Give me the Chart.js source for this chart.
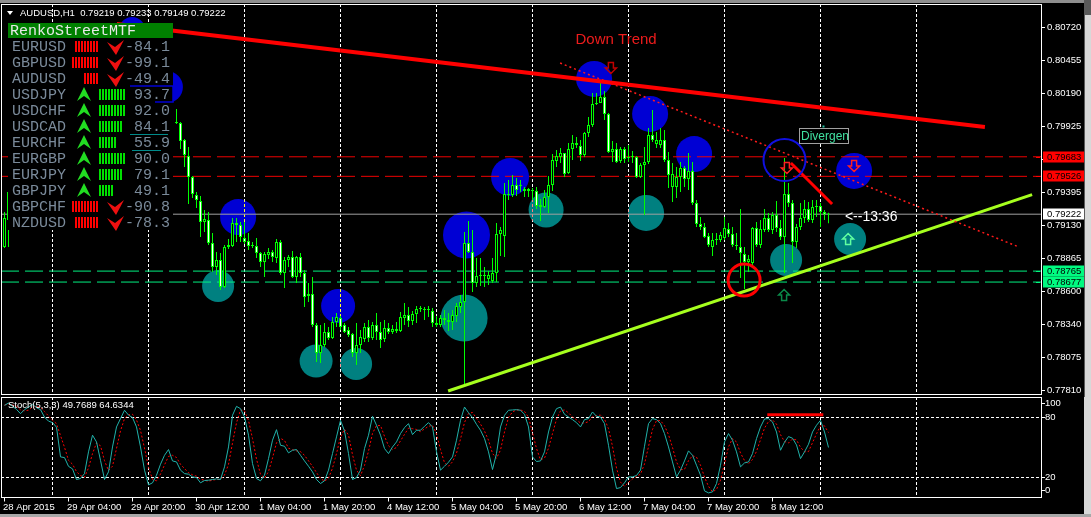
<!DOCTYPE html>
<html>
<head>
<meta charset="utf-8">
<script src="https://cdn.jsdelivr.net/npm/chart.js@4.4.1/dist/chart.umd.min.js"></script>
<style>
html, body { margin: 0; padding: 0; background: #000; overflow: hidden; }
#main { position: absolute; left: 0; top: 0; }
#sub { position: absolute; left: 0; top: 397px; }
</style>
</head>
<body>
<canvas id="main" width="1091" height="397"></canvas>
<canvas id="sub" width="1091" height="120"></canvas>
<script>
// AUDUSD H1, one entry per bar (bar 0 = 28 Apr 2015 12:00). Bars 2..42 sit under the panel.
const openP = [0.78958, 0.79175,
  null, null, null, null, null, null, null, null, null, null,
  null, null, null, null, null, null, null, null, null, null,
  null, null, null, null, null, null, null, null, null, null,
  null, null, null, null, null, null, null, null, null, null,
  null,
  0.79962, 0.79954, 0.79818, 0.79689, 0.79521, 0.79376, 0.79328, 0.79159, 0.79175, 0.78990,
  0.78798, 0.78854, 0.78637, 0.78958, 0.78966, 0.79151, 0.79135, 0.79031, 0.79007, 0.78974,
  0.78966, 0.78910, 0.78838, 0.78894, 0.78918, 0.78870, 0.78999, 0.78750, 0.78854, 0.78878,
  0.78717, 0.78878, 0.78750, 0.78581, 0.78581, 0.78332, 0.78107, 0.78171, 0.78276, 0.78228,
  0.78356, 0.78388, 0.78332, 0.78292, 0.78260, 0.78107, 0.78171, 0.78220, 0.78316, 0.78228,
  0.78332, 0.78276, 0.78220, 0.78308, 0.78276, 0.78300, 0.78284, 0.78388, 0.78412, 0.78364,
  0.78420, 0.78460, 0.78460, 0.78452, 0.78444, 0.78348, 0.78332, 0.78388, 0.78372, 0.78356,
  0.78404, 0.78477, 0.78517, 0.78990, 0.78918, 0.78669, 0.78725, 0.78734, 0.78701, 0.78685,
  0.78750, 0.79063, 0.79047, 0.79384, 0.79376, 0.79456, 0.79448, 0.79408, 0.79424, 0.79416,
  0.79408, 0.79296, 0.79280, 0.79360, 0.79456, 0.79649, 0.79681, 0.79713, 0.79553, 0.79745,
  0.79794, 0.79769, 0.79697, 0.79874, 0.79938, 0.80107, 0.80115, 0.80163, 0.80026, 0.79721,
  0.79745, 0.79649, 0.79745, 0.79673, 0.79681, 0.79681, 0.79521, 0.79617, 0.79641, 0.79858,
  0.79786, 0.79778, 0.79818, 0.79657, 0.79440, 0.79440, 0.79521, 0.79593, 0.79504, 0.79569,
  0.79312, 0.79143, 0.79119, 0.79047, 0.78958, 0.79015, 0.79015, 0.79031, 0.79103, 0.79063,
  0.78974, 0.78958, 0.78902, 0.78838, 0.78830, 0.79111, 0.78974, 0.79095, 0.79191, 0.79095,
  0.79215, 0.79111, 0.79039, 0.79384, 0.79312, 0.78999, 0.79119, 0.79191, 0.79264, 0.79175,
  0.79280, 0.79288, 0.79239, 0.79219];

const highP = [0.79239, 0.79432,
  null, null, null, null, null, null, null, null, null, null,
  null, null, null, null, null, null, null, null, null, null,
  null, null, null, null, null, null, null, null, null, null,
  null, null, null, null, null, null, null, null, null, null,
  null,
  0.80067, 0.79962, 0.79826, 0.79761, 0.79529, 0.79400, 0.79368, 0.79256, 0.79239, 0.79071,
  0.78918, 0.78910, 0.78974, 0.79023, 0.79191, 0.79191, 0.79159, 0.79159, 0.79071, 0.78999,
  0.79031, 0.78918, 0.78918, 0.78950, 0.78934, 0.79023, 0.79015, 0.78878, 0.78894, 0.78926,
  0.78886, 0.78910, 0.78774, 0.78669, 0.78717, 0.78348, 0.78332, 0.78348, 0.78316, 0.78396,
  0.78428, 0.78404, 0.78348, 0.78316, 0.78268, 0.78348, 0.78292, 0.78348, 0.78372, 0.78356,
  0.78428, 0.78356, 0.78372, 0.78348, 0.78332, 0.78356, 0.78436, 0.78509, 0.78477, 0.78444,
  0.78485, 0.78485, 0.78477, 0.78485, 0.78468, 0.78404, 0.78412, 0.78452, 0.78428, 0.78452,
  0.78509, 0.78573, 0.79079, 0.79167, 0.79095, 0.78870, 0.78870, 0.78798, 0.78766, 0.78870,
  0.79151, 0.79119, 0.79472, 0.79496, 0.79537, 0.79512, 0.79496, 0.79440, 0.79432, 0.79432,
  0.79440, 0.79344, 0.79416, 0.79529, 0.79705, 0.79737, 0.79753, 0.79713, 0.79794, 0.79858,
  0.79842, 0.79818, 0.79882, 0.80002, 0.80195, 0.80195, 0.80284, 0.80211, 0.80035, 0.79810,
  0.79794, 0.79761, 0.79761, 0.79778, 0.79729, 0.79689, 0.79633, 0.79761, 0.79914, 0.80059,
  0.79882, 0.79914, 0.79898, 0.79721, 0.79633, 0.79601, 0.79641, 0.79609, 0.79713, 0.79641,
  0.79336, 0.79199, 0.79151, 0.79071, 0.79071, 0.79071, 0.79079, 0.79199, 0.79151, 0.79119,
  0.79071, 0.79264, 0.78958, 0.78894, 0.79119, 0.79159, 0.79175, 0.79264, 0.79231, 0.79239,
  0.79328, 0.79175, 0.79673, 0.79472, 0.79336, 0.79143, 0.79312, 0.79336, 0.79320, 0.79336,
  0.79336, 0.79312, 0.79256, 0.79233];

const lowP = [0.78950, 0.78958,
  null, null, null, null, null, null, null, null, null, null,
  null, null, null, null, null, null, null, null, null, null,
  null, null, null, null, null, null, null, null, null, null,
  null, null, null, null, null, null, null, null, null, null,
  null,
  0.79946, 0.79745, 0.79601, 0.79304, 0.79352, 0.79272, 0.79039, 0.79079, 0.78974, 0.78758,
  0.78734, 0.78613, 0.78629, 0.78942, 0.78958, 0.78999, 0.78999, 0.78982, 0.78934, 0.78950,
  0.78870, 0.78798, 0.78717, 0.78862, 0.78838, 0.78830, 0.78734, 0.78629, 0.78798, 0.78709,
  0.78669, 0.78717, 0.78477, 0.78517, 0.78316, 0.78035, 0.78027, 0.78155, 0.78211, 0.78220,
  0.78316, 0.78292, 0.78268, 0.78236, 0.78075, 0.78011, 0.78107, 0.78195, 0.78195, 0.78211,
  0.78211, 0.78147, 0.78195, 0.78260, 0.78260, 0.78268, 0.78276, 0.78332, 0.78316, 0.78332,
  0.78348, 0.78436, 0.78372, 0.78396, 0.78316, 0.78316, 0.78316, 0.78332, 0.78284, 0.78292,
  0.78356, 0.78428, 0.77850, 0.78910, 0.78597, 0.78637, 0.78645, 0.78637, 0.78653, 0.78669,
  0.78677, 0.78886, 0.78878, 0.79336, 0.79360, 0.79368, 0.79400, 0.79360, 0.79360, 0.79336,
  0.79264, 0.79167, 0.79272, 0.79231, 0.79408, 0.79601, 0.79633, 0.79521, 0.79545, 0.79657,
  0.79753, 0.79649, 0.79681, 0.79842, 0.79922, 0.80099, 0.80115, 0.79978, 0.79713, 0.79641,
  0.79633, 0.79633, 0.79633, 0.79641, 0.79633, 0.79512, 0.79512, 0.79215, 0.79625, 0.79802,
  0.79753, 0.79753, 0.79641, 0.79432, 0.79320, 0.79352, 0.79400, 0.79440, 0.79416, 0.79296,
  0.79119, 0.79095, 0.79031, 0.78958, 0.78886, 0.78974, 0.78999, 0.79015, 0.79039, 0.78958,
  0.78934, 0.78709, 0.78621, 0.78758, 0.78814, 0.78958, 0.78950, 0.79079, 0.79079, 0.79063,
  0.79079, 0.79015, 0.78750, 0.79280, 0.78830, 0.78950, 0.79095, 0.79151, 0.79159, 0.79151,
  0.79199, 0.79119, 0.79175, 0.79149];

const closeP = [0.79191, 0.79400,
  null, null, null, null, null, null, null, null, null, null,
  null, null, null, null, null, null, null, null, null, null,
  null, null, null, null, null, null, null, null, null, null,
  null, null, null, null, null, null, null, null, null, null,
  null,
  0.79954, 0.79810, 0.79697, 0.79521, 0.79384, 0.79336, 0.79159, 0.79183, 0.78990, 0.78798,
  0.78854, 0.78637, 0.78958, 0.78974, 0.79151, 0.79135, 0.79039, 0.78999, 0.78966, 0.78966,
  0.78910, 0.78838, 0.78902, 0.78918, 0.78878, 0.78999, 0.78750, 0.78854, 0.78878, 0.78717,
  0.78878, 0.78750, 0.78557, 0.78565, 0.78332, 0.78107, 0.78171, 0.78276, 0.78228, 0.78356,
  0.78396, 0.78316, 0.78276, 0.78252, 0.78107, 0.78171, 0.78236, 0.78316, 0.78228, 0.78332,
  0.78276, 0.78211, 0.78308, 0.78276, 0.78300, 0.78284, 0.78396, 0.78412, 0.78364, 0.78420,
  0.78460, 0.78468, 0.78452, 0.78460, 0.78348, 0.78332, 0.78388, 0.78372, 0.78356, 0.78412,
  0.78485, 0.78517, 0.78990, 0.78918, 0.78669, 0.78725, 0.78734, 0.78725, 0.78734, 0.78750,
  0.79063, 0.79095, 0.79384, 0.79376, 0.79456, 0.79416, 0.79456, 0.79424, 0.79408, 0.79408,
  0.79288, 0.79280, 0.79360, 0.79456, 0.79657, 0.79689, 0.79713, 0.79545, 0.79745, 0.79794,
  0.79778, 0.79697, 0.79874, 0.79938, 0.80107, 0.80115, 0.80163, 0.80026, 0.79721, 0.79745,
  0.79641, 0.79745, 0.79665, 0.79681, 0.79689, 0.79521, 0.79617, 0.79641, 0.79858, 0.79818,
  0.79818, 0.79818, 0.79657, 0.79537, 0.79545, 0.79521, 0.79593, 0.79504, 0.79569, 0.79312,
  0.79143, 0.79119, 0.79039, 0.78974, 0.79015, 0.79023, 0.79055, 0.79111, 0.79063, 0.78974,
  0.78966, 0.78910, 0.78838, 0.78862, 0.79111, 0.78974, 0.79103, 0.79191, 0.79095, 0.79215,
  0.79111, 0.79039, 0.79384, 0.79312, 0.78999, 0.79119, 0.79191, 0.79264, 0.79175, 0.79280,
  0.79288, 0.79239, 0.79219, 0.79222];

// Stochastic(5,3,3): main %K and signal %D
const stochK = [
  91.7, 94, 90.7, 87.7, 83.4, 87.4, 90, 92.7, 89.4, 87.4,
  80, 76, 74.5, 70, 40.4, 39.7, 31, 28.5, 17.9, 18.9,
  23.8, 45.4, 62, 55.3, 37, 17.9, 25.5, 50.3, 70.2, 78.5,
  86.8, 82, 79.5, 70.2, 50.3, 27.2, 12.6, 14.6, 22.2, 33.1,
  42, 47.7, 36.4, 35.4, 27.2, 23.8, 23.2, 20.5, 19.9, 14.6,
  16.9, 17.2, 17.9, 18.5, 17.9, 30.5, 50.3, 81.8, 90.7, 88.4,
  80.1, 62, 33.8, 18.9, 16.6, 22.2, 38.7, 57, 67.5, 52,
  51, 44.4, 47, 47.7, 42, 36.4, 31.1, 25.5, 17.9, 13.9,
  16.6, 27.2, 43.7, 60.3, 76.8, 66.2, 43.7, 17.9, 19.9, 27.2,
  48.7, 62, 80.8, 71.9, 62, 48.7, 43.7, 50.3, 55.3, 63.6,
  69.5, 73.5, 62.6, 66.9, 66.9, 70.9, 74.5, 70.2, 45.4, 27.2,
  31.1, 35.1, 40.4, 57, 76.8, 90, 84.4, 79.5, 72.8, 66.9,
  58.6, 45.4, 27.8, 43.7, 70.2, 81.8, 86.8, 87.1, 87.4, 86.8,
  82.8, 70.2, 40.4, 35.8, 36.4, 45.4, 65.2, 80.1, 88.4, 90,
  82.8, 80.1, 77.5, 74.5, 70.2, 77.5, 78.5, 85.1, 80.8, 80.1,
  73.5, 52, 27.2, 8.9, 9.9, 14.6, 20.5, 20.5, 21.9, 27.2,
  51, 73.5, 78.5, 77.5, 73.5, 63.6, 50.3, 35.4, 20.5, 27.2,
  36.4, 46.4, 42, 32.1, 22.2, 6.6, 4.6, 5.6, 13.9, 32.1,
  55.3, 63.6, 57, 45.4, 30.5, 34.4, 35.4, 43.7, 58.6, 70.2,
  78.1, 78.5, 75.2, 65.2, 47, 55, 60.6, 59, 52.3, 38.7,
  45.4, 53, 65.2, 71.9, 76.8, 65.2, 49.7689];

const stochD = [
  92, 93, 92.1, 90.8, 87.3, 86.2, 86.9, 90, 90.7, 89.8,
  85.6, 81.1, 76.8, 73.5, 61.6, 50, 37, 33.1, 25.8, 21.8,
  20.2, 29.4, 43.7, 54.2, 51.4, 36.7, 26.8, 31.2, 48.7, 66.3,
  78.5, 82.4, 82.8, 77.2, 66.7, 49.2, 30, 18.1, 16.5, 23.3,
  32.4, 40.9, 42, 39.8, 33, 28.8, 24.7, 22.5, 21.2, 18.3,
  17.1, 16.2, 17.3, 17.9, 18.1, 22.3, 32.9, 54.2, 74.3, 87,
  86.4, 76.8, 58.6, 38.2, 23.1, 19.2, 25.8, 39.3, 54.4, 58.8,
  56.8, 49.1, 47.5, 46.4, 45.6, 42, 36.5, 31, 24.8, 19.1,
  16.1, 19.2, 29.2, 43.7, 60.3, 67.8, 62.2, 42.6, 27.2, 21.7,
  31.9, 46, 63.8, 71.6, 71.6, 60.9, 51.5, 47.6, 49.8, 56.4,
  62.8, 68.9, 68.5, 67.7, 65.5, 68.2, 70.8, 71.9, 63.4, 47.6,
  34.6, 31.1, 35.5, 44.2, 58.1, 74.6, 83.7, 84.6, 78.9, 73.1,
  66.1, 57, 43.9, 39, 47.2, 65.2, 79.6, 85.2, 87.1, 87.1,
  85.7, 79.9, 64.5, 48.8, 37.5, 39.2, 49, 63.6, 77.9, 86.2,
  87.1, 84.3, 80.1, 77.4, 74.1, 74.1, 75.4, 80.4, 81.5, 82,
  78.1, 68.5, 50.9, 29.4, 15.3, 11.1, 15, 18.5, 21, 23.2,
  33.4, 50.6, 67.7, 76.5, 76.5, 71.5, 62.5, 49.8, 35.4, 27.7,
  28, 36.7, 41.6, 40.2, 32.1, 20.3, 11.1, 5.6, 8, 17.2,
  33.8, 50.3, 58.6, 55.3, 44.3, 36.8, 33.4, 37.8, 45.9, 57.5,
  69, 75.6, 77.3, 73, 62.5, 55.7, 54.2, 58.2, 57.3, 50,
  45.5, 45.7, 54.5, 63.4, 71.3, 71.3, 64.6344];
const stochLevels = [80, 20];
const stochTicks = [100, 80, 20, 0];

// axis ticks
const priceTicks = [0.80720, 0.80455, 0.80190, 0.79925, 0.79660, 0.79395,
  0.79130, 0.78865, 0.78600, 0.78340, 0.78075, 0.77810];
const timeIdx = [0, 16, 32, 48, 64, 80, 96, 112, 128, 144, 160, 176, 192];
const timeLabels = ['28 Apr 2015', '29 Apr 04:00', '29 Apr 20:00', '30 Apr 12:00',
  '1 May 04:00', '1 May 20:00', '4 May 12:00', '5 May 04:00', '5 May 20:00',
  '6 May 12:00', '7 May 04:00', '7 May 20:00', '8 May 12:00'];
const dayGridIdx = [12, 36, 60, 84, 108, 132, 156, 180, 204, 228];

// chart objects (bar index, price)
const resistLevels = [0.79683, 0.79526];
const supportLevels = [0.78765, 0.78677];
const swingHighX = [40.6, 31.9, 58.4, 83.4, 115.5, 126.4, 147.4, 161.4, 172.4, 212.4];
const swingHighY = [0.80243, 0.80701, 0.79199, 0.78485, 0.79055, 0.79521, 0.80308, 0.80027, 0.79705, 0.79569];
const swingLowX = [53.4, 77.9, 87.9, 114.9, 135.4, 160.4, 195.4, 211.4];
const swingLowY = [0.78645, 0.78043, 0.78019, 0.78388, 0.79256, 0.79232, 0.78854, 0.79023];
const downTrendX = [28.1, 245.1], downTrendY = [0.80749, 0.79922];
const channelX = [138.9, 253.4], channelY = [0.80436, 0.78961];
const upTrendX = [110.9, 256.9], upTrendY = [0.77802, 0.79379];
const divLineX = [196.6, 206.9], divLineY = [0.79633, 0.79304];
const divStochX = [190.7, 204.7], divStochY = [82.4, 82.4];
const divTop = {x: 195, y: 0.79657};
const divLow = {x: 184.9, y: 0.78693};
const sellArrowX = [151.6, 195.6, 212.4], sellArrowY = [0.80396, 0.79593, 0.79609];
const buyArrowX = [194.9, 210.9], buyArrowY = [0.78573, 0.79023];
const downTrendText = {x: 152.9, y: 0.80621};
const divText = {x: 198.6, y: 0.79914};
const timerText = {x: 210.1, label: '<--13:36'};

// RenkoStreetMTF panel
const panelSymbols = ['EURUSD', 'GBPUSD', 'AUDUSD', 'USDJPY', 'USDCHF', 'USDCAD',
  'EURCHF', 'EURGBP', 'EURJPY', 'GBPJPY', 'GBPCHF', 'NZDUSD'];
const panelStrength = [-84.1, -99.1, -49.4, 93.7, 92.0, 84.1, 55.9, 90.0, 79.1, 49.1, -90.8, -78.3];

const X_MIN = -0.875, X_MAX = 259.125;
const UI = '9.5px "Liberation Sans", Arial, sans-serif';
const last = closeP.length - 1;
const bid = closeP[last];

Chart.defaults.font.family = '"Liberation Sans", Arial, sans-serif';
Chart.defaults.animation = false;

const pts = (xs, ys) => xs.map((x, k) => ({x: x, y: ys[k]}));
const hline = p => [{x: X_MIN, y: p}, {x: X_MAX, y: p}];

const wicks = [], bodies = [], bodyFill = [];
for (let i = 0; i < openP.length; i++) {
	if (openP[i] == null) continue;
	wicks.push({x: i, y: [lowP[i], highP[i]]});
	bodies.push({x: i, y: [openP[i], closeP[i]]});
	bodyFill.push(closeP[i] < openP[i] ? '#ffffff' : '#000000');
}

function lineSet(data, color, width, dash, order) {
	return {type: 'line', data: data, borderColor: color, borderWidth: width,
		borderDash: dash || [], pointRadius: 0, fill: false, order: order};
}

function arrow(ctx, x, y, dir, color) {
	const p = [[-2.5, -5.5], [2.5, -5.5], [2.5, 0], [5.5, 0], [0, 5.5], [-5.5, 0], [-2.5, 0]];
	ctx.beginPath();
	p.forEach(([dx, dy], k) => {
		const px = x + dx, py = y + dy * dir;
		if (k) ctx.lineTo(px, py); else ctx.moveTo(px, py);
	});
	ctx.closePath();
	ctx.strokeStyle = color;
	ctx.lineWidth = 1.5;
	ctx.stroke();
}

function drawPanel(ctx) {
	ctx.fillStyle = '#000';
	ctx.fillRect(8, 38, 165, 192);
	ctx.fillStyle = '#008000';
	ctx.fillRect(8, 23, 165, 15);
	ctx.font = '15px "Liberation Mono", monospace';
	ctx.textBaseline = 'middle';
	ctx.textAlign = 'left';
	ctx.fillStyle = '#e8e8e8';
	ctx.fillText('RenkoStreetMTF', 10, 31);

	// leftovers of other objects around the panel
	ctx.strokeStyle = '#0000d4';
	ctx.lineWidth = 1.5;
	ctx.beginPath();
	ctx.moveTo(130, 86); ctx.lineTo(173, 86); ctx.lineTo(173, 102); ctx.lineTo(155, 102);
	ctx.stroke();
	ctx.strokeStyle = '#008b8b';
	ctx.lineWidth = 1;
	ctx.beginPath();
	ctx.moveTo(130, 134.5); ctx.lineTo(168, 134.5);
	ctx.moveTo(132, 150.5); ctx.lineTo(161, 150.5);
	ctx.stroke();

	panelSymbols.forEach((s, k) => {
		const y = 46 + 16 * k;
		const v = panelStrength[k];
		ctx.font = '15px "Liberation Mono", monospace';
		ctx.fillStyle = '#7a8a9a';
		ctx.textAlign = 'left';
		ctx.fillText(s, 12, y + 1);
		ctx.textAlign = 'right';
		ctx.fillText(v.toFixed(1), 170, y + 1);
		const n = Math.min(9, Math.round(Math.abs(v) / 10));
		if (v < 0) {
			ctx.fillStyle = '#ff0000';
			for (let j = 0; j < n; j++) ctx.fillRect(96 - 3 * j, y - 5, 2, 11);
			ctx.fillStyle = '#ee1010';
			ctx.beginPath();
			ctx.moveTo(107, y - 4); ctx.lineTo(115, y + 1); ctx.lineTo(124, y - 6); ctx.lineTo(116, y + 9);
			ctx.closePath();
			ctx.fill();
		} else {
			ctx.fillStyle = '#00e000';
			for (let j = 0; j < n; j++) ctx.fillRect(99 + 3 * j, y - 5, 2, 11);
			ctx.fillStyle = '#22dd22';
			ctx.beginPath();
			ctx.moveTo(84, y - 7); ctx.lineTo(91, y + 7); ctx.lineTo(84, y + 2); ctx.lineTo(77, y + 7);
			ctx.closePath();
			ctx.fill();
		}
	});
}

const mainOverlay = {
	id: 'mainOverlay',
	beforeDraw(chart) {
		const ctx = chart.ctx;
		ctx.save();
		ctx.fillStyle = '#000';
		ctx.fillRect(0, 0, chart.width, chart.height);
		ctx.restore();
	},
	afterDatasetDraw(chart, args) {
		if (chart.data.datasets[args.index].label !== 'swings') return;
		const ctx = chart.ctx, a = chart.chartArea, xs = chart.scales.x;
		ctx.save();
		ctx.beginPath();
		ctx.rect(a.left, a.top, a.right - a.left, a.bottom - a.top);
		ctx.clip();
		ctx.globalCompositeOperation = 'difference';
		ctx.strokeStyle = '#ffffff';
		ctx.lineWidth = 1;
		ctx.setLineDash([3, 2]);
		dayGridIdx.forEach(i => {
			const px = Math.floor(xs.getPixelForValue(i)) + 0.5;
			ctx.beginPath();
			ctx.moveTo(px, a.top);
			ctx.lineTo(px, a.bottom);
			ctx.stroke();
		});
		ctx.restore();
	},
	afterDatasetsDraw(chart) {
		const ctx = chart.ctx, xs = chart.scales.x, ys = chart.scales.y;
		ctx.save();
		const sellCol = ['#c00000', '#ff2020', '#ff2020'];
		sellArrowX.forEach((x, k) => arrow(ctx, xs.getPixelForValue(x), ys.getPixelForValue(sellArrowY[k]), 1, sellCol[k]));
		const buyCol = ['#0a8a4a', '#60ffa0'];
		buyArrowX.forEach((x, k) => arrow(ctx, xs.getPixelForValue(x), ys.getPixelForValue(buyArrowY[k]), -1, buyCol[k]));

		ctx.textBaseline = 'middle';
		ctx.textAlign = 'center';
		ctx.font = '15px "Liberation Sans", Arial, sans-serif';
		ctx.fillStyle = '#ee1c1c';
		ctx.fillText('Down Trend', xs.getPixelForValue(downTrendText.x), ys.getPixelForValue(downTrendText.y));

		const bx = Math.round(xs.getPixelForValue(divText.x)) + 0.5;
		const by = Math.round(ys.getPixelForValue(divText.y)) + 0.5;
		ctx.fillStyle = '#000';
		ctx.fillRect(bx, by, 49, 15);
		ctx.strokeStyle = '#a0a0a0';
		ctx.lineWidth = 1;
		ctx.strokeRect(bx, by, 49, 15);
		ctx.font = '12px "Liberation Sans", Arial, sans-serif';
		ctx.textAlign = 'left';
		ctx.fillStyle = '#40e0a0';
		ctx.fillText('Divergen', bx + 1.5, by + 8);
		ctx.fillStyle = '#20c0a0';
		ctx.fillRect(bx + 23, by - 3, 2, 2);

		ctx.font = '14px "Liberation Sans", Arial, sans-serif';
		ctx.fillStyle = '#ffffff';
		ctx.fillText(timerText.label, xs.getPixelForValue(timerText.x), ys.getPixelForValue(bid) + 3);

		drawPanel(ctx);

		// header line
		ctx.fillStyle = '#ffffff';
		ctx.beginPath();
		ctx.moveTo(7, 11); ctx.lineTo(13, 11); ctx.lineTo(10, 15);
		ctx.closePath();
		ctx.fill();
		ctx.font = UI;
		ctx.textAlign = 'left';
		ctx.fillText('AUDUSD,H1  ' + [openP[last], highP[last], lowP[last], closeP[last]]
			.map(v => v.toFixed(5)).join(' '), 20, 13);
		ctx.restore();
	},
	afterDraw(chart) {
		const ctx = chart.ctx, a = chart.chartArea, ys = chart.scales.y;
		ctx.save();
		ctx.strokeStyle = '#ffffff';
		ctx.lineWidth = 1;
		ctx.strokeRect(a.left + 0.5, a.top + 0.5, a.right - a.left, a.bottom - a.top);

		const boxes = [
			[resistLevels[0], '#ff0000'], [resistLevels[1], '#ff0000'],
			[bid, '#ffffff'],
			[supportLevels[0], '#00fa80'], [supportLevels[1], '#00fa80']
		];
		ctx.font = UI;
		ctx.textBaseline = 'middle';
		ctx.textAlign = 'left';
		boxes.forEach(([p, col]) => {
			const py = Math.round(ys.getPixelForValue(p));
			ctx.fillStyle = col;
			ctx.fillRect(a.right + 2, py - 5.5, 41, 11);
			if (col !== '#ffffff') ctx.fillRect(a.right - 5, py, 4, 1);
			ctx.fillStyle = '#000';
			ctx.fillText(p.toFixed(5), a.right + 6, py + 0.5);
		});

		// window frame
		ctx.fillStyle = '#8e8e8e';
		ctx.fillRect(0, 0, chart.width, 3);
		ctx.fillStyle = '#d8d8d8';
		ctx.fillRect(1085, 0, 6, chart.height);
		ctx.fillStyle = '#5a5a5a';
		ctx.fillRect(1085, 0, 6, 15);
		ctx.fillRect(1084, 0, 1, chart.height);
		ctx.restore();
	}
};

new Chart(document.getElementById('main'), {
	type: 'bar',
	data: {
		datasets: [
			{
				type: 'line', label: 'swings', showLine: false, order: 30,
				data: pts(swingHighX, swingHighY).concat(pts(swingLowX, swingLowY)),
				pointRadius: [16, 13, 18, 17, 23.5, 19, 18, 18, 18, 18, 16, 16.5, 16, 23.5, 17.5, 18, 16, 16],
				pointBackgroundColor: swingHighX.map(() => '#0000d4').concat(swingLowX.map(() => '#008080')),
				pointBorderWidth: 0, pointBorderColor: 'rgba(0,0,0,0)'
			},
			lineSet(hline(resistLevels[0]), '#ee0000', 1, [18, 6], 20),
			lineSet(hline(resistLevels[1]), '#ee0000', 1, [18, 6], 20),
			lineSet(hline(supportLevels[0]), '#00f080', 1, [18, 6], 20),
			lineSet(hline(supportLevels[1]), '#00f080', 1, [18, 6], 20),
			lineSet(hline(bid), '#a0a0a0', 1, [], 20),
			{
				label: 'wicks', data: wicks, backgroundColor: '#00ff00', borderWidth: 0,
				barThickness: 1, grouped: false, inflateAmount: 0, order: 12
			},
			{
				label: 'bodies', data: bodies, backgroundColor: bodyFill, borderColor: '#00ff00',
				borderWidth: 1, borderSkipped: false, barThickness: 3, grouped: false,
				minBarLength: 1, inflateAmount: 0, order: 11
			},
			lineSet(pts(downTrendX, downTrendY), '#ff0000', 4, [], 6),
			lineSet(pts(channelX, channelY), '#ff1a1a', 1.5, [2, 3], 6),
			lineSet(pts(upTrendX, upTrendY), '#a6ff1e', 3, [], 6),
			lineSet(pts(divLineX, divLineY), '#ff0000', 3, [], 6),
			{
				type: 'line', showLine: false, data: [divTop], order: 4, pointRadius: 21,
				pointBackgroundColor: 'rgba(0,0,0,0)', pointBorderColor: '#1010e0', pointBorderWidth: 2
			},
			{
				type: 'line', showLine: false, data: [divLow], order: 4, pointRadius: 16,
				pointBackgroundColor: 'rgba(0,0,0,0)', pointBorderColor: '#ff0000', pointBorderWidth: 3
			}
		]
	},
	options: {
		responsive: false,
		devicePixelRatio: 1,
		animation: false,
		events: [],
		layout: {autoPadding: false, padding: {left: 1, top: 4, right: 0, bottom: 3}},
		plugins: {legend: {display: false}, tooltip: {enabled: false}},
		scales: {
			x: {type: 'linear', min: X_MIN, max: X_MAX, offset: false, display: false},
			y: {
				position: 'right', min: 0.77778, max: 0.80910,
				afterFit: s => { s.width = 50; s.paddingTop = 0; s.paddingBottom = 0; },
				afterBuildTicks: s => { s.ticks = priceTicks.map(v => ({value: v})); },
				ticks: {color: '#ffffff', font: {size: 9.5}, padding: 2, autoSkip: false,
					callback: v => Number(v).toFixed(5)},
				grid: {drawOnChartArea: false, drawTicks: true, tickLength: 4, color: '#ffffff'},
				border: {display: false}
			}
		}
	},
	plugins: [mainOverlay]
});

const subOverlay = {
	id: 'subOverlay',
	beforeDraw(chart) {
		const ctx = chart.ctx;
		ctx.save();
		ctx.fillStyle = '#000';
		ctx.fillRect(0, 0, chart.width, chart.height);
		ctx.restore();
	},
	beforeDatasetsDraw(chart) {
		const ctx = chart.ctx, a = chart.chartArea, xs = chart.scales.x, ys = chart.scales.y;
		ctx.save();
		ctx.strokeStyle = '#ffffff';
		ctx.lineWidth = 1;
		ctx.setLineDash([3, 2]);
		dayGridIdx.forEach(i => {
			const px = Math.floor(xs.getPixelForValue(i)) + 0.5;
			ctx.beginPath();
			ctx.moveTo(px, a.top);
			ctx.lineTo(px, a.bottom);
			ctx.stroke();
		});
		stochLevels.forEach(v => {
			const py = Math.floor(ys.getPixelForValue(v)) + 0.5;
			ctx.beginPath();
			ctx.moveTo(a.left, py);
			ctx.lineTo(a.right, py);
			ctx.stroke();
		});
		ctx.restore();
	},
	afterDraw(chart) {
		const ctx = chart.ctx, a = chart.chartArea, xs = chart.scales.x, ys = chart.scales.y;
		ctx.save();
		ctx.strokeStyle = '#ffffff';
		ctx.lineWidth = 1;
		ctx.strokeRect(a.left + 0.5, a.top + 0.5, a.right - a.left, Math.floor(a.bottom - a.top));

		ctx.font = UI;
		ctx.textBaseline = 'middle';
		ctx.textAlign = 'left';
		ctx.fillStyle = '#ffffff';
		ctx.fillText('Stoch(5,3,3) ' + stochK[last].toFixed(4) + ' ' + stochD[last].toFixed(4), 8, 8);

		// value scale: end labels are pushed inside the window
		const shift = {100: 6, 80: 0, 20: 0, 0: -7.5};
		stochTicks.forEach(v => {
			const py = ys.getPixelForValue(v) + shift[v];
			ctx.fillRect(a.right, Math.round(py), 4, 1);
			ctx.fillText(String(v), a.right + 4, py);
		});

		// time scale
		timeIdx.forEach((i, k) => {
			const px = Math.floor(xs.getPixelForValue(i));
			ctx.fillRect(px, a.bottom, 1, 4);
			ctx.fillText(timeLabels[k], px - 1, 110);
		});

		ctx.fillStyle = '#d8d8d8';
		ctx.fillRect(1085, 0, 6, chart.height);
		ctx.fillRect(1084, 0, 1, chart.height);
		ctx.fillStyle = '#a8a8a8';
		ctx.fillRect(0, 117, chart.width, 3);
		ctx.restore();
	}
};

new Chart(document.getElementById('sub'), {
	type: 'line',
	data: {
		datasets: [
			lineSet(stochK.map((v, i) => ({x: i, y: v})), '#20b2aa', 1, [], 2),
			lineSet(stochD.map((v, i) => ({x: i, y: v})), '#ff0000', 1, [2, 2], 3),
			lineSet(pts(divStochX, divStochY), '#ff0000', 3, [], 1)
		]
	},
	options: {
		responsive: false,
		devicePixelRatio: 1,
		animation: false,
		events: [],
		layout: {autoPadding: false, padding: {left: 1, top: 0, right: 0, bottom: 19.5}},
		plugins: {legend: {display: false}, tooltip: {enabled: false}},
		scales: {
			x: {type: 'linear', min: X_MIN, max: X_MAX, offset: false, display: false},
			y: {
				position: 'right', min: 0, max: 100,
				afterFit: s => { s.width = 50; s.paddingTop = 0; s.paddingBottom = 0; },
				ticks: {display: false}, grid: {display: false}, border: {display: false}
			}
		}
	},
	plugins: [subOverlay]
});
</script>
</body>
</html>
